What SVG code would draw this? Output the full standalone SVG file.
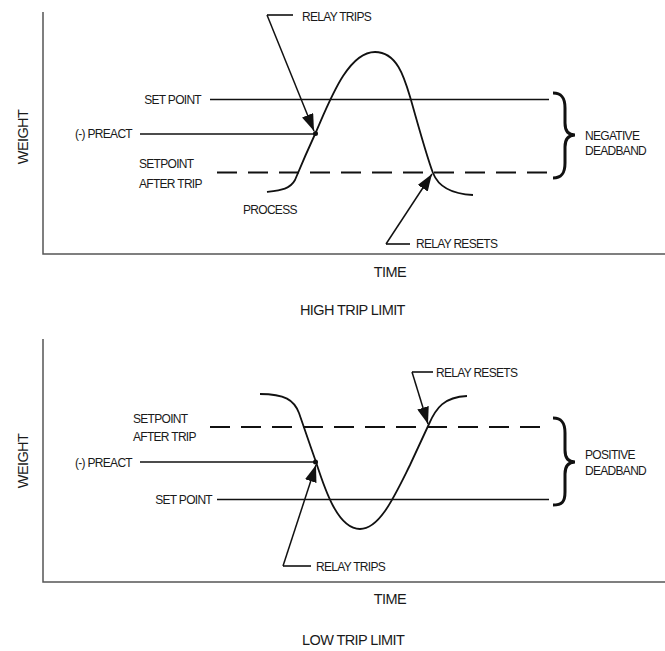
<svg xmlns="http://www.w3.org/2000/svg" width="665" height="651" viewBox="0 0 665 651">
<defs>
<style>
text{font-family:"Liberation Sans",Arial,sans-serif;font-size:12px;letter-spacing:-0.7px;fill:#1a1a1a}
.big{font-size:14.5px;letter-spacing:-0.6px}
.axis{stroke:#555;stroke-width:1.5;fill:none}
.ln{stroke:#111;stroke-width:1.6;fill:none}
.dash{stroke:#111;stroke-width:1.8;fill:none;stroke-dasharray:20 11}
.curve{stroke:#111;stroke-width:1.8;fill:none}
.arr{stroke:#111;stroke-width:1.5;fill:none;marker-end:url(#ah)}
.brace{stroke:#111;stroke-width:3;fill:none}
</style>
<marker id="ah" markerUnits="userSpaceOnUse" markerWidth="18" markerHeight="12" refX="17" refY="6" orient="auto">
<path d="M0,0 L17,6 L0,12 z" fill="#111"/>
</marker>
</defs>
<rect width="665" height="651" fill="#fff"/>

<g id="high-chart">
<g id="high-axes">
<path class="axis" d="M43,12 L43,254 L665,254"/>
<text class="big" transform="translate(28,137) rotate(-90)" text-anchor="middle">WEIGHT</text>
<text class="big" x="406" y="277" text-anchor="end">TIME</text>
<text class="big" x="300" y="315">HIGH TRIP LIMIT</text>
</g>
<g id="high-setpoint">
<text x="201" y="104" text-anchor="end">SET POINT</text>
<path class="ln" d="M210,99.5 L549,99.5"/>
</g>
<g id="high-preact">
<text x="132" y="138" text-anchor="end">(-) PREACT</text>
<path class="ln" d="M140,134 L315,134"/>
<circle cx="315.5" cy="133.5" r="2.5" fill="#111"/>
</g>
<g id="high-after-trip">
<text x="139" y="167.5">SETPOINT</text>
<text x="139" y="187.5">AFTER TRIP</text>
<path class="dash" d="M217,172.5 L549,172.5"/>
</g>
<g id="high-process">
<path class="curve" d="M267,192 C282,190 290,189 295,180 C300,168 310,145 316,132 C330,100 348,52 375,52 C398,52 405,80 411,100 C418,125 428,160 433,173 C438,186 452,194 473,195"/>
<text x="243" y="213.5">PROCESS</text>
</g>
<g id="high-deadband">
<path class="brace" d="M553,93 C562,93 565,98 565,108 L565,123 C565,131 568,135 575,135 C568,135 565,139 565,147 L565,163 C565,173 562,178 553,178"/>
<text x="585" y="140">NEGATIVE</text>
<text x="585" y="155">DEADBAND</text>
</g>
<g id="high-relay-trips">
<text x="302" y="21">RELAY TRIPS</text>
</g>
<g id="high-relay-resets">
<text x="416" y="248">RELAY RESETS</text>
</g>
</g>

<g id="low-chart">
<g id="low-axes">
<path class="axis" d="M43,339 L43,582 L665,582"/>
<text class="big" transform="translate(28,461) rotate(-90)" text-anchor="middle">WEIGHT</text>
<text class="big" x="406" y="604" text-anchor="end">TIME</text>
<text class="big" x="302" y="645">LOW TRIP LIMIT</text>
</g>
<g id="low-after-trip">
<text x="133" y="422.5">SETPOINT</text>
<text x="133" y="440.5">AFTER TRIP</text>
<path class="dash" d="M210,427 L547,427"/>
</g>
<g id="low-preact">
<text x="132" y="466.5" text-anchor="end">(-) PREACT</text>
<path class="ln" d="M140,462 L315,462"/>
<circle cx="315.5" cy="462" r="2.5" fill="#111"/>
</g>
<g id="low-setpoint">
<text x="212" y="503.5" text-anchor="end">SET POINT</text>
<path class="ln" d="M217,499.5 L549,499.5"/>
</g>
<g id="low-process">
<path class="curve" d="M260,394 C285,394 294,400 299,413 C303,425 310,445 316,462 C325,490 338,529 360,529 C380,529 395,495 410,465 C418,448 424,435 429,424 C436,408 444,397 467,396"/>
</g>
<g id="low-deadband">
<path class="brace" d="M553,418 C562,418 565,423 565,433 L565,450 C565,458 568,462 575,462 C568,462 565,466 565,474 L565,492 C565,502 562,505 553,505"/>
<text x="585" y="459">POSITIVE</text>
<text x="585" y="475">DEADBAND</text>
</g>
<g id="low-relay-trips">
<text x="316" y="571">RELAY TRIPS</text>
</g>
<g id="low-relay-resets">
<text x="436" y="377">RELAY RESETS</text>
</g>
</g>

<g id="connectors">
<path class="ln" d="M293,15 L267,15"/>
<path class="arr" d="M267,15 L314,131"/>
<path class="ln" d="M410,244 L386,244"/>
<path class="arr" d="M386,244 L432,174"/>
<path class="ln" d="M311,566 L283,566"/>
<path class="arr" d="M283,566 L316,465"/>
<path class="ln" d="M433,372 L412,372"/>
<path class="arr" d="M412,372 L428,424"/>
</g>
</svg>
